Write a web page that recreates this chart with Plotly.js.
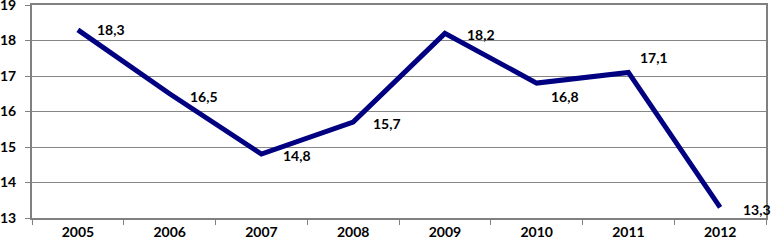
<!DOCTYPE html>
<html><head><meta charset="utf-8">
<script src="https://cdn.plot.ly/plotly-3.0.1.min.js"></script>
<style>html,body{margin:0;padding:0;background:#fff}#c{width:772px;height:246px}</style>
</head><body><div id="c"></div>
<script>
const years = ['2005','2006','2007','2008','2009','2010','2011','2012'];
const values = [18.3, 16.5, 14.8, 15.7, 18.2, 16.8, 17.1, 13.3];
const labels = ['18,3','16,5','14,8','15,7','18,2','16,8','17,1','13,3'];
const yTicks = [13,14,15,16,17,18,19];

const shifts = [[33,0],[34,-3],[36,-1],[34,-1],[36,-1.5],[28,-13],[26,14.5],[37,-2]];
const font = {family:'Lato, "Liberation Sans", sans-serif', size:14, color:'#000', weight:'bold'};

const annotations = years.map((y,i)=>({
  x:i, y:values[i], text:labels[i], showarrow:false,
  xshift:shifts[i][0], yshift:shifts[i][1], font:font
}));

Plotly.newPlot('c',[{
  x:years, y:values, type:'scatter', mode:'lines',
  line:{color:'#000080', width:5},
  hoverinfo:'none'
}],{
  width:772, height:246,
  margin:{l:32,r:6,t:5,b:28},
  paper_bgcolor:'#fff', plot_bgcolor:'#fff',
  showlegend:false,
  font:font,
  xaxis:{type:'category', range:[-0.5,7.5], showline:true, mirror:true, linecolor:'#808080', linewidth:2,
    ticks:'outside', tickson:'boundaries', ticklen:5, tickcolor:'#808080',
    showgrid:false, tickfont:font, fixedrange:true},
  yaxis:{range:[13,19], tickvals:yTicks, showline:true, mirror:true, linecolor:'#808080', linewidth:2,
    ticks:'outside', ticklen:5, tickcolor:'#808080', showgrid:true, gridcolor:'#868686', gridwidth:1,
    ticklabelstandoff:6, ticklabeloverflow:'allow',
    zeroline:false, tickfont:font, fixedrange:true},
  annotations:annotations
},{staticPlot:true});
</script></body></html>
